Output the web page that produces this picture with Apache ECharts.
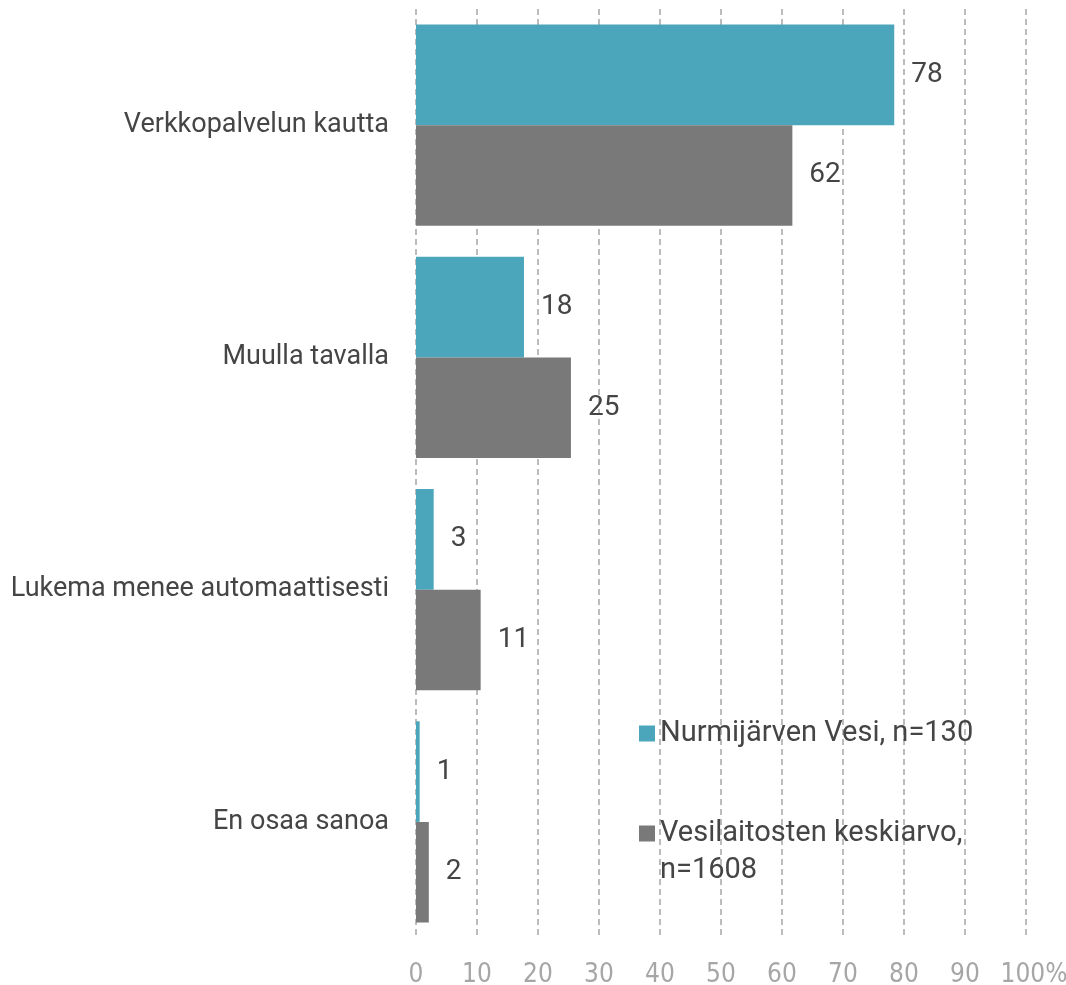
<!DOCTYPE html>
<html>
<head>
<meta charset="utf-8">
<script src="https://cdn.jsdelivr.net/npm/echarts@6/dist/echarts.min.js"></script>
<style>
  html, body { margin: 0; padding: 0; background: #fff; }
  #chart { width: 1066px; height: 985px; }
</style>
</head>
<body>
<div id="chart"></div>
<script>
// kategoriat ylhäältä alas
const categories = ['Verkkopalvelun kautta', 'Muulla tavalla', 'Lukema menee automaattisesti', 'En osaa sanoa'];
const nurmijarvi = [78.4, 17.7, 2.9, 0.6];
const keskiarvo = [61.7, 25.4, 10.6, 2.1];
const seriesNames = ['Nurmijärven Vesi, n=130', 'Vesilaitosten keskiarvo, n=1608'];
const xTicks = [0, 10, 20, 30, 40, 50, 60, 70, 80, 90, 100];

const textColor = '#454545';
const fontFam = 'Roboto, "Open Sans", sans-serif';
const tickFont = '"Liberation Sans Narrow", "DejaVu Sans Condensed", sans-serif';

const mychart = echarts.init(document.getElementById('chart'));

const option = {
  animation: false,
  grid: { left: 416, right: 40, top: 9, bottom: 47, outerBoundsMode: 'none' },
  legend: {
    orient: 'vertical',
    left: 634,
    top: 710,
    itemWidth: 16,
    itemHeight: 16,
    itemGap: 26,
    icon: 'rect',
    data: seriesNames,
    formatter: function (name) {
      // rivitys kuten alkuperäisessä
      return name === seriesNames[1] ? '\nVesilaitosten keskiarvo,\nn=1608' : name;
    },
    textStyle: { color: textColor, fontSize: 29, fontFamily: fontFam, lineHeight: 37 },
  },
  xAxis: {
    type: 'value',
    min: xTicks[0],
    max: xTicks[xTicks.length - 1],
    interval: 10,
    axisLine: { show: false },
    axisTick: { show: false },
    axisLabel: {
      color: '#a6a6a6',
      fontSize: 26,
      fontFamily: tickFont,
      margin: 24,
      formatter: v => (v === 100 ? '{p|100%}' : String(v)),
      rich: { p: { padding: [0, 0, 0, 16], fontSize: 26, color: '#a6a6a6', fontFamily: tickFont } },
    },
    splitLine: {
      show: true,
      lineStyle: { color: '#a6a6a6', width: 1.5, type: [6, 4] },
    },
  },
  yAxis: {
    type: 'category',
    inverse: true,
    data: categories,
    axisLine: { show: false },
    axisTick: { show: false },
    axisLabel: { color: textColor, fontSize: 27, fontFamily: fontFam, margin: 27 },
  },
  series: [
    {
      name: seriesNames[0],
      type: 'bar',
      data: nurmijarvi,
      barGap: '0%',
      barCategoryGap: '13.4%',
      itemStyle: { color: '#4BA6BC' },
      label: {
        show: true, position: 'right', distance: 17,
        color: textColor, fontSize: 28, fontFamily: fontFam,
        formatter: p => Math.round(p.value),
      },
    },
    {
      name: seriesNames[1],
      type: 'bar',
      data: keskiarvo,
      itemStyle: { color: '#797979' },
      label: {
        show: true, position: 'right', distance: 17,
        color: textColor, fontSize: 28, fontFamily: fontFam,
        formatter: p => Math.round(p.value),
      },
    },
  ],
};
mychart.setOption(option);
</script>
</body>
</html>
